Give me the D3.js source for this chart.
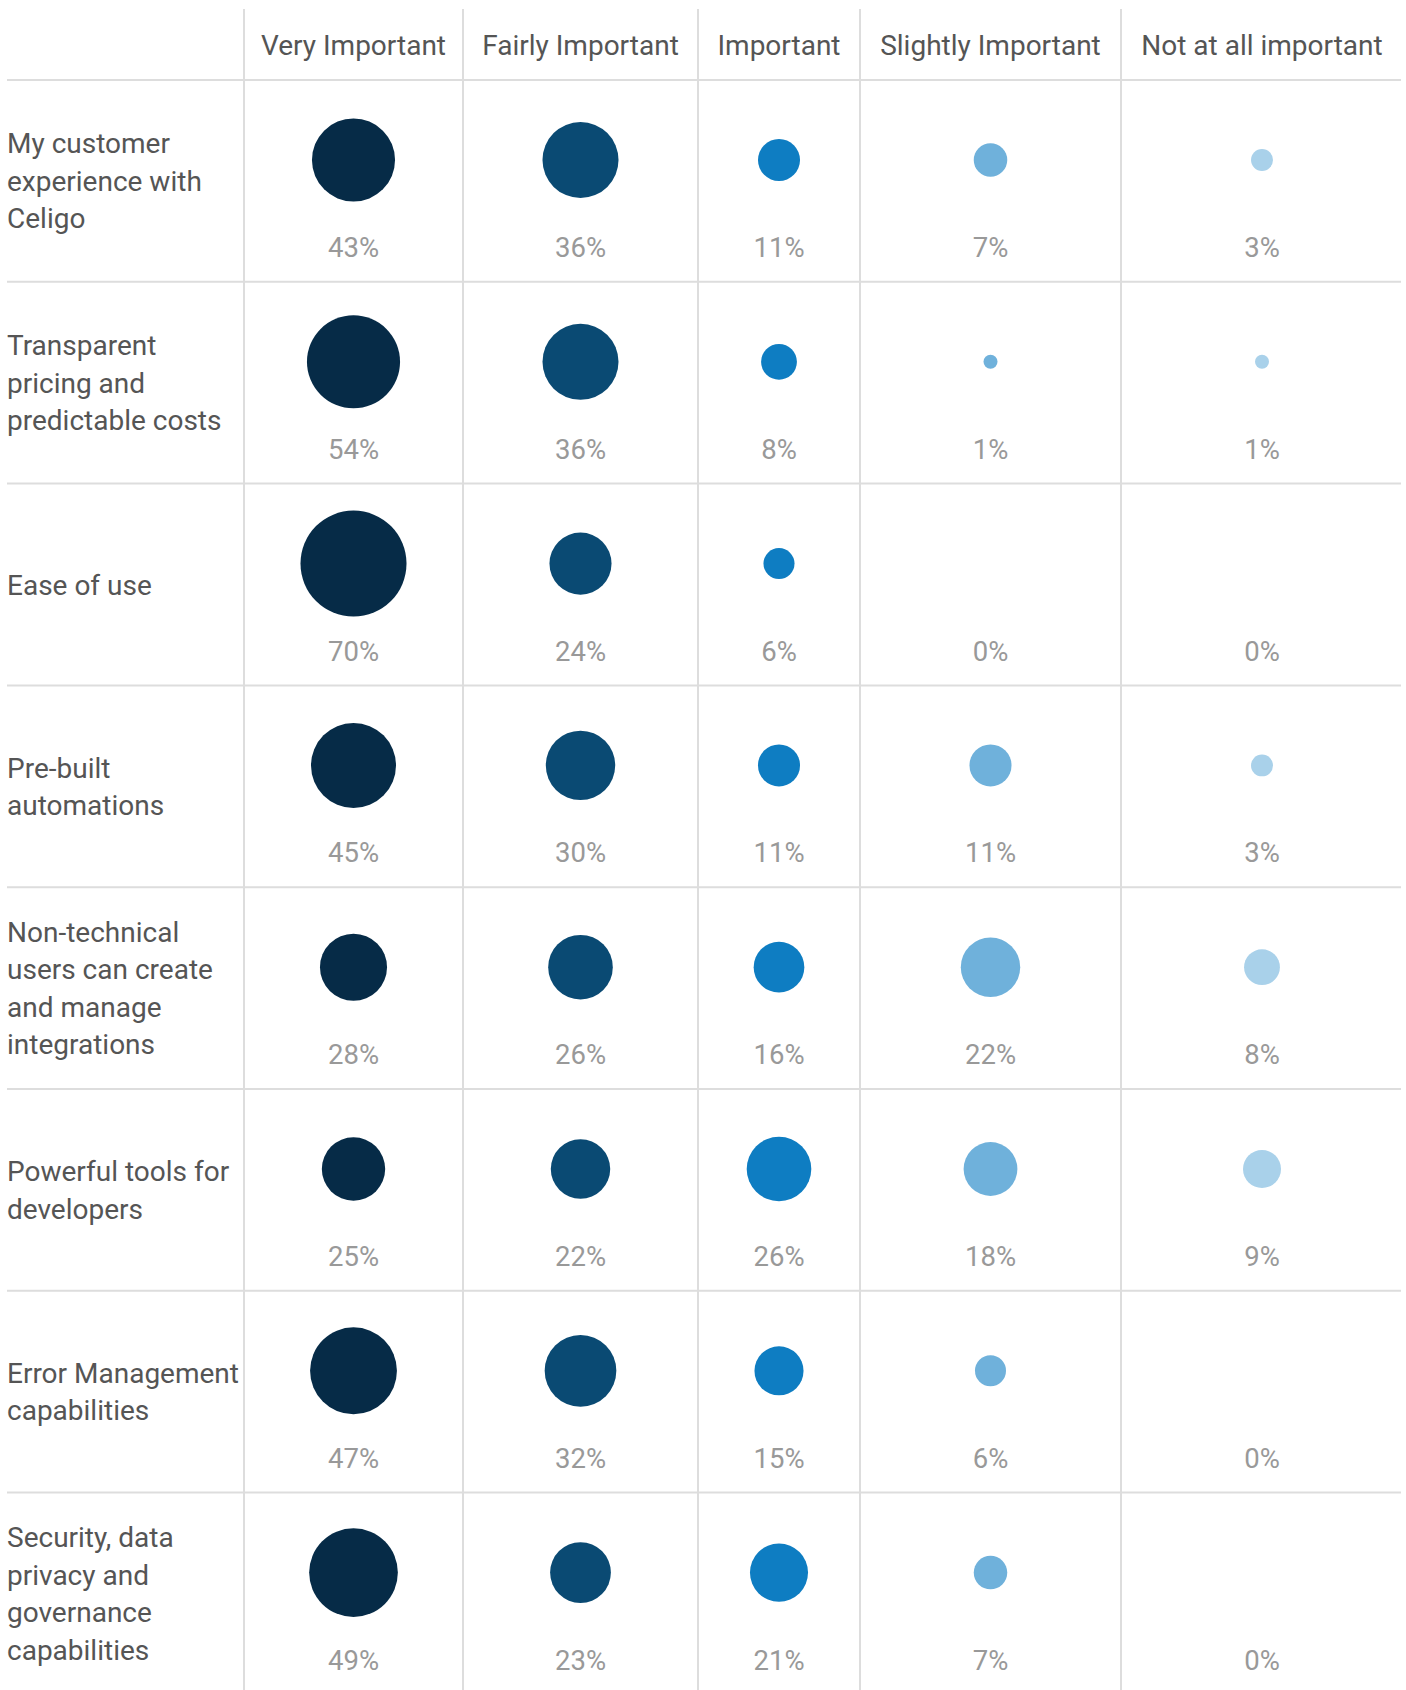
<!DOCTYPE html>
<html lang="en">
<head>
    <meta charset="UTF-8">
    <title>Importance matrix</title>
    <script src="https://cdn.jsdelivr.net/npm/d3@7"></script>
    <style>
        body { margin: 0; background: #ffffff; }
        text { font-family: Roboto, "Noto Sans", sans-serif; }
    </style>
</head>
<body>

    <div id="canvas"></div>

    <script>

        // data
        const columns = ['Very Important', 'Fairly Important', 'Important', 'Slightly Important', 'Not at all important'];

        const rowLabels = [
            ['My customer', 'experience with', 'Celigo'],
            ['Transparent', 'pricing and', 'predictable costs'],
            ['Ease of use'],
            ['Pre-built', 'automations'],
            ['Non-technical', 'users can create', 'and manage', 'integrations'],
            ['Powerful tools for', 'developers'],
            ['Error Management', 'capabilities'],
            ['Security, data', 'privacy and', 'governance', 'capabilities']
        ];

        const veryImportant     = [43, 54, 70, 45, 28, 25, 47, 49];
        const fairlyImportant   = [36, 36, 24, 30, 26, 22, 32, 23];
        const important         = [11,  8,  6, 11, 16, 26, 15, 21];
        const slightlyImportant = [ 7,  1,  0, 11, 22, 18,  6,  7];
        const notImportant      = [ 3,  1,  0,  3,  8,  9,  0,  0];

        const colors = ['#062b47', '#0a4a73', '#0e7dc2', '#6fb1db', '#a9d1ea'];

    </script>

    <script>

        const width = 1406;
        const height = 1690;

        const left = 7;
        const right = 1401;
        const labelWidth = 237;
        const colWidths = [219, 235, 162, 261, 282];
        const headerTop = 9;
        const headerBottom = 80;
        const rowHeight = 201.8;

        const series = [veryImportant, fairlyImportant, important, slightlyImportant, notImportant];
        const rowIndex = d3.range(rowLabels.length);

        // column edges from the widths
        const edges = [left + labelWidth];
        colWidths.forEach((w, i) => edges.push(edges[i] + w));

        const x = d3.scaleOrdinal()
            .domain(columns)
            .range(columns.map((c, i) => (edges[i] + edges[i + 1]) / 2));

        const y = d3.scaleBand()
            .domain(rowIndex)
            .range([headerBottom, headerBottom + rowHeight * rowIndex.length]);

        const r = d3.scaleSqrt()
            .domain([0, 70])
            .range([0, 53]);

        const color = d3.scaleOrdinal().domain(columns).range(colors);

        const svg = d3.select('#canvas')
            .append('svg')
            .attr('width', width)
            .attr('height', height);

        const grid = svg.append('g')
            .attr('stroke', '#dddddd')
            .attr('stroke-width', 2);

        // vertical separators
        grid.selectAll('.vline')
            .data(edges.slice(0, columns.length))
            .enter()
            .append('line')
            .attr('x1', (d) => d)
            .attr('x2', (d) => d)
            .attr('y1', headerTop)
            .attr('y2', height);

        // horizontal separators (below header and each row)
        grid.selectAll('.hline')
            .data([headerBottom].concat(rowIndex.map((i) => y(i) + y.bandwidth())))
            .enter()
            .append('line')
            .attr('x1', left)
            .attr('x2', right)
            .attr('y1', (d) => d)
            .attr('y2', (d) => d);

        // header
        svg.selectAll('.header')
            .data(columns)
            .enter()
            .append('text')
            .attr('x', (d) => x(d))
            .attr('y', (headerTop + headerBottom) / 2 + 10)
            .attr('text-anchor', 'middle')
            .attr('fill', '#555555')
            .attr('font-size', 28)
            .text((d) => d);

        // row labels
        const lineHeight = 37.5;

        svg.selectAll('.rowlabel')
            .data(rowLabels)
            .enter()
            .append('text')
            .attr('fill', '#555555')
            .attr('font-size', 28)
            .each(function(lines, i) {
                const mid = y(i) + y.bandwidth() / 2 + 10;
                const first = mid - (lines.length - 1) * lineHeight / 2;
                d3.select(this).selectAll('tspan')
                    .data(lines)
                    .enter()
                    .append('tspan')
                    .attr('x', left)
                    .attr('y', (d, j) => first + j * lineHeight)
                    .text((d) => d);
            });

        // cells
        const cells = [];
        rowIndex.forEach((i) => {
            columns.forEach((c, j) => {
                cells.push({ row: i, col: c, value: series[j][i] });
            });
        });

        svg.selectAll('.bubble')
            .data(cells.filter((d) => d.value > 0))
            .enter()
            .append('circle')
            .attr('cx', (d) => x(d.col))
            .attr('cy', (d) => y(d.row) + 80)
            .attr('r', (d) => Math.max(r(d.value), 7))
            .attr('fill', (d) => color(d.col));

        svg.selectAll('.pct')
            .data(cells)
            .enter()
            .append('text')
            .attr('x', (d) => x(d.col))
            .attr('y', (d) => y(d.row) + 177)
            .attr('text-anchor', 'middle')
            .attr('fill', '#999999')
            .attr('font-size', 27.5)
            .text((d) => d.value + '%');

    </script>

</body>
</html>
